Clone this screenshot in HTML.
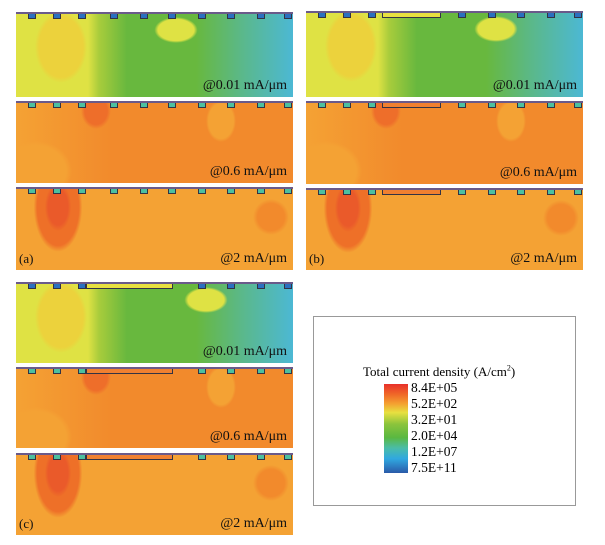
<!DOCTYPE html>
<html><head><meta charset="utf-8">
<style>
body{margin:0;width:605px;height:545px;background:#fff;position:relative;overflow:hidden;font-family:"Liberation Serif",serif;}
.sub{position:absolute;overflow:hidden;}
.pad{position:absolute;height:5px;width:8px;border:1px solid #334;border-top:none;box-sizing:border-box;}
.bar{position:absolute;left:0;right:0;top:0;height:2px;background:#6a5a8a;}
.lbl{position:absolute;right:6px;bottom:3px;font-size:14px;color:#111;}
.tag{position:absolute;left:3px;bottom:3px;font-size:13px;color:#111;}
.gate{position:absolute;top:0;height:5px;border:1px solid #334;border-top:none;box-sizing:border-box;}
</style></head><body>
<div id="root"></div>
<div style="position:absolute;left:313px;top:316px;width:263px;height:190px;border:1px solid #999;box-sizing:border-box;">
 <div style="position:absolute;left:49px;top:48px;font-size:13px;line-height:14px;white-space:nowrap;">Total current density (A/cm<sup style="font-size:8px;line-height:0">2</sup>)</div>
 <div style="position:absolute;left:70px;top:67px;width:24px;height:89px;background:linear-gradient(#e8302a,#f06a28 12%,#f4a030 22%,#e8e040 32%,#8cc43c 45%,#5ab840 60%,#4abca8 72%,#30a8e0 84%,#2a5aa8 100%);"></div>
 <div id="ticks"></div>
</div>
<script>
const tickLabels=["8.4E+05","5.2E+02","3.2E+01","2.0E+04","1.2E+07","7.5E+11"];
const ticks=document.getElementById('ticks');
tickLabels.forEach((t,i)=>{const d=document.createElement('div');


d.style.cssText='position:absolute;left:97px;line-height:15px;top:'+(63+i*16)+'px;font-size:13.5px;';d.textContent=t;ticks.appendChild(d);});

const Y='#dfe244',YO='#ecd23c',G='#68b83e',C='#4cb8d4',O='#f28a2c',LO='#f4a234',R='#ea5a2a';
const lowBg=(x)=>`radial-gradient(ellipse 40px 55px at 45px 35px,${YO} 55%,transparent 65%),radial-gradient(ellipse 30px 18px at ${x}px 18px,${Y} 60%,transparent 72%),linear-gradient(90deg,${Y} 0%,${Y} 26%,#a8cc3c 30%,${G} 40%,${G} 65%,#5ab88c 82%,${C} 100%)`;
const midBg=`radial-gradient(ellipse 25px 30px at 80px 10px,#ee6e2a 45%,transparent 60%),radial-gradient(ellipse 60px 50px at 20px 70px,${LO} 50%,transparent 60%),radial-gradient(ellipse 25px 35px at 205px 20px,${LO} 50%,transparent 60%),linear-gradient(90deg,${LO} 0%,${O} 35%,${O} 100%)`;
const highBg=`radial-gradient(ellipse 22px 40px at 42px 20px,${R} 45%,transparent 60%),radial-gradient(ellipse 38px 70px at 42px 20px,#ee7028 55%,transparent 64%),radial-gradient(ellipse 30px 30px at 255px 30px,${O} 45%,transparent 60%),linear-gradient(90deg,${LO},${LO})`;
const padX=[12,37,62,94,124,152,182,211,241,268];
const panels=[
 {x:16,name:'panel-a',tag:'(a)',ys:[[12,85],[101,82],[187,83]],gate:null},
 {x:306,name:'panel-b',tag:'(b)',ys:[[11,86],[101,83],[188,82]],gate:[76,135]},
 {x:16,name:'panel-c',tag:'(c)',ys:[[282,81],[367,81],[453,82]],gate:[70,157]}];
const labels=['@0.01 mA/μm','@0.6 mA/μm','@2 mA/μm'];
const root=document.getElementById('root');
panels.forEach(p=>{
 p.ys.forEach((yy,k)=>{
  const s=document.createElement('div');s.className='sub';
  
  
  s.style.left=p.x+'px';s.style.top=yy[0]+'px';s.style.width='277px';s.style.height=yy[1]+'px';
  s.style.background=k==0?lowBg(p.gate?190:160):k==1?midBg:highBg;
  let h='<div class="bar"></div>';
  padX.forEach(px=>{ if(p.gate&&px>p.gate[0]-5&&px<p.gate[1]) return;
   h+=`<div class="pad" style="left:${px}px;top:2px;background:${k==0?'#2a70c0':'#4cc0a0'}"></div>`;});
  if(p.gate) h+=`<div class="gate" style="left:${p.gate[0]}px;width:${p.gate[1]-p.gate[0]}px;top:2px;background:${k==0?'#e8e040':'#f08030'}"></div>`;
  h+=`<div class="lbl">${labels[k]}</div>`;
  if(k==2) h+=`<div class="tag">${p.tag}</div>`;
  s.innerHTML=h;root.appendChild(s);
 });
});
</script>
</body></html>
